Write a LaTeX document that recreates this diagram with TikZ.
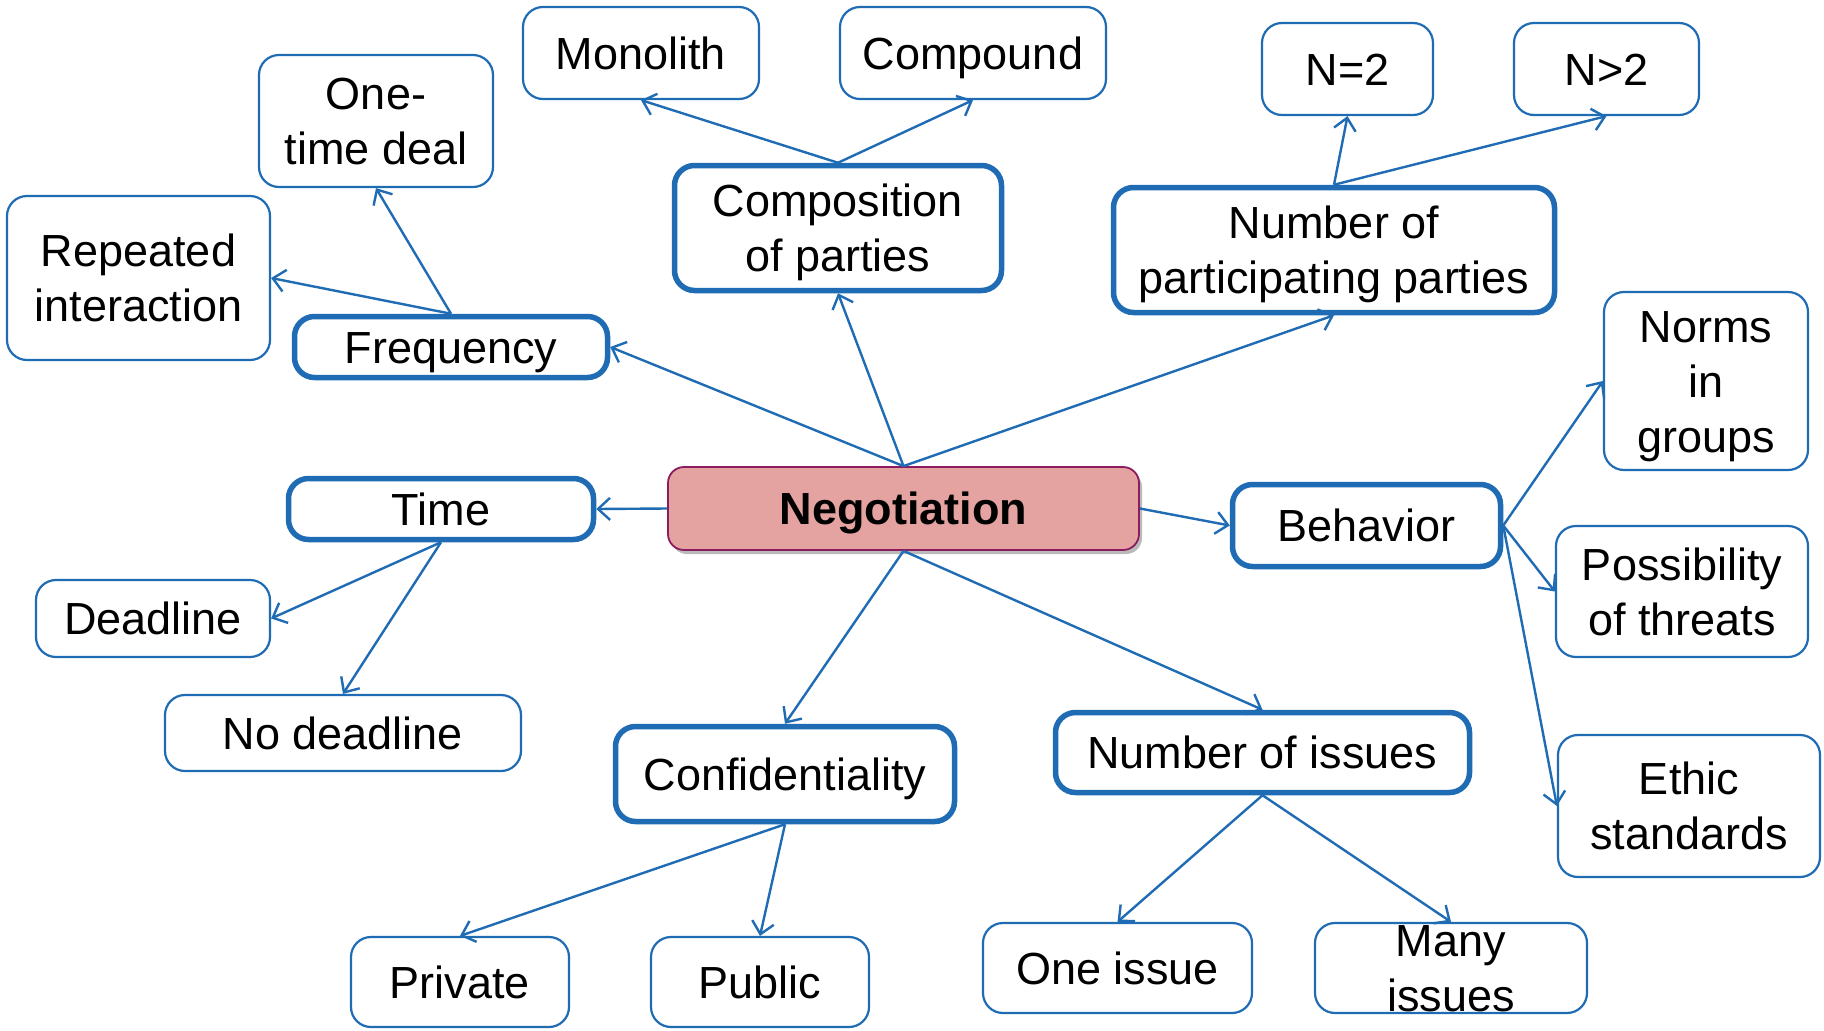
\documentclass[tikz,border=0pt]{standalone}
\usepackage{fontspec}
\setmainfont{Liberation Sans}
\usetikzlibrary{arrows.meta,shadows}
\definecolor{lineblue}{RGB}{31,108,180}
\definecolor{negfill}{RGB}{228,163,160}
\definecolor{negborder}{RGB}{140,28,96}
\newcommand\linestrut{\rule[-0.214em]{0pt}{1.144em}}
\begin{document}
\begin{tikzpicture}[x=1pt,y=-1pt,
  txt/.style={font=\fontsize{45pt}{55pt}\selectfont, align=center, inner sep=0pt,
    execute at begin node=\linestrut, execute at end node=\linestrut},
  basebox/.style={txt, draw=lineblue, rounded corners=20pt, text=black},
  leaf/.style={basebox, line width=2.2pt},
  topic/.style={basebox, line width=5.5pt},
  root/.style={txt, draw=negborder, fill=negfill, line width=1.8pt, rounded corners=16pt,
    font=\fontsize{45pt}{55pt}\selectfont\bfseries,
    drop shadow={shadow xshift=3pt, shadow yshift=-4pt, fill=black!45, opacity=0.6}},
  conn/.style={draw=lineblue, line width=2.4pt, -{Straight Barb[length=12pt,width=22pt,line width=2.4pt]}},
  wh/.style 2 args={minimum width=#1, minimum height=#2}
]
\fill[white] (0,0) rectangle (1824,1031);
\useasboundingbox (0,0) rectangle (1824,1031);

% root
\node[root, wh={471pt}{83pt}] (neg) at (903.5,508.5) {Negotiation};

% topics
\node[topic, wh={305pt}{61pt}] (time) at (441,509) {Time};
\node[topic, wh={313pt}{61pt}] (freq) at (451,347) {Frequency};
\node[topic, wh={327pt}{125pt}] (comp) at (838,228) {\linestrut Composition\\of parties};
\node[topic, wh={441pt}{125pt}] (npp) at (1334,250) {\linestrut Number of\\participating parties};
\node[topic, wh={268pt}{82pt}] (beh) at (1366.5,525.5) {Behavior};
\node[topic, wh={339pt}{95pt}] (conf) at (785,774) {Confidentiality};
\node[topic, wh={414pt}{80pt}] (noi) at (1262.5,752.5) {Number of issues};

% leaves
\node[leaf, wh={234pt}{132pt}] (onetime) at (376,121) {\linestrut One-\\time deal};
\node[leaf, wh={263pt}{164pt}] (rep) at (138.5,278) {\linestrut Repeated\\interaction};
\node[leaf, wh={236pt}{92pt}] (mono) at (641,53) {Monolith};
\node[leaf, wh={266pt}{92pt}] (cmpd) at (973,53) {Compound};
\node[leaf, wh={171pt}{92pt}] (ntwo) at (1347.5,69) {N=2};
\node[leaf, wh={185pt}{92pt}] (nmore) at (1606.5,69) {N>2};
\node[leaf, wh={204pt}{178pt}] (norms) at (1706,381) {\linestrut Norms\\in\\groups};
\node[leaf, wh={252pt}{131pt}] (poss) at (1682,591.5) {\linestrut Possibility\\of threats};
\node[leaf, wh={262pt}{142pt}] (ethic) at (1689,806) {\linestrut Ethic\\standards};
\node[leaf, wh={234pt}{77pt}] (dead) at (153,618.5) {Deadline};
\node[leaf, wh={356pt}{76pt}] (nodead) at (343,733) {No deadline};
\node[leaf, wh={218pt}{90pt}] (priv) at (460,982) {Private};
\node[leaf, wh={218pt}{90pt}] (pub) at (760,982) {Public};
\node[leaf, wh={269pt}{90pt}] (one) at (1117.5,968) {One issue};
\node[leaf, wh={272pt}{90pt}, label={[txt]center:\linestrut Many\\issues}] (many) at (1451,968) {};

% connectors from root
\draw[conn] (neg.north) -- (freq.east);
\draw[conn] (neg.north) -- (comp.south);
\draw[conn] (neg.north) -- (npp.south);
\draw[conn] (neg.west) -- (time.east);
\draw[conn] (neg.east) -- (beh.west);
\draw[conn] (neg.south) -- (conf.north);
\draw[conn] (neg.south) -- (noi.north);

% topic to leaves
\draw[conn] (freq.north) -- (onetime.south);
\draw[conn] (freq.north) -- (rep.east);
\draw[conn] (comp.north) -- (mono.south);
\draw[conn] (comp.north) -- (cmpd.south);
\draw[conn] (npp.north) -- (ntwo.south);
\draw[conn] (npp.north) -- (nmore.south);
\draw[conn] (beh.east) -- (norms.west);
\draw[conn] (beh.east) -- (poss.west);
\draw[conn] (beh.east) -- (ethic.west);
\draw[conn] (time.south) -- (dead.east);
\draw[conn] (time.south) -- (nodead.north);
\draw[conn] (conf.south) -- (priv.north);
\draw[conn] (conf.south) -- (pub.north);
\draw[conn] (noi.south) -- (one.north);
\draw[conn] (noi.south) -- (many.north);
\end{tikzpicture}
\end{document}
